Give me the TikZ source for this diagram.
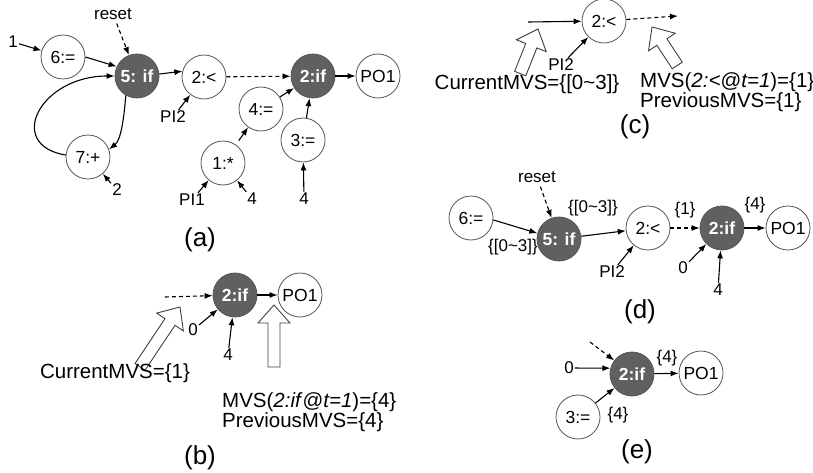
\documentclass[tikz,border=0pt]{standalone}
\usepackage{fontspec}
\setmainfont{Liberation Sans}
\usetikzlibrary{arrows.meta}
\definecolor{darkfill}{RGB}{96,96,96}
\definecolor{rim}{RGB}{85,85,85}
\newcommand\hollowarrow[3]{%
  \draw[hollow] [shift={#1}, rotate=#2] (0,0) -- (-18,16) -- (-18,6) -- (-#3,6) -- (-#3,-6) -- (-18,-6) -- (-18,-16) -- cycle;}
\begin{document}
\begin{tikzpicture}[x=1pt, y=-1pt,
  op/.style={circle, draw=rim, line width=0.8pt, minimum size=44pt, inner sep=0pt, fill=white, font=\fontsize{17.5}{20}\selectfont},
  opd/.style={op, fill=darkfill, text=white, font=\fontsize{17.5}{20}\selectfont\bfseries},
  lab/.style={inner sep=1pt, font=\fontsize{17}{19}\selectfont},
  biglab/.style={inner sep=0pt, font=\fontsize{20.5}{17.5}\selectfont, align=left},
  panel/.style={inner sep=0pt, font=\fontsize{26}{30}\selectfont},
  arr/.style={-{Latex[length=8pt,width=6pt]}, line width=1.1pt},
  darr/.style={arr, dash pattern=on 4pt off 3pt},
  hollow/.style={draw=black!75, line width=0.9pt, fill=white, line join=miter}]
\useasboundingbox (0,0) rectangle (813,473);

% ---------- (a) ----------
\node[op]  (a6)  at (63,57)   {6:=};
\node[opd] (a5)  at (137,76)  {5: if};
\node[op]  (a2l) at (204,77)  {2:<};
\node[opd] (a2i) at (313,76)  {2:if};
\node[op]  (apo) at (378,76)  {PO1};
\node[op]  (a4)  at (261,109) {4:=};
\node[op]  (a3)  at (303,140) {3:=};
\node[op]  (a1)  at (223,163) {1:*};
\node[op]  (a7)  at (88,157)  {7:+};
\node[lab] (areset) at (113,14) {reset};
\node[lab] (a1l)  at (13,42)  {1};
\node[lab] (api2) at (173,117) {PI2};
\node[lab] (a2lab) at (117,190) {2};
\node[lab] (api1) at (192,200) {PI1};
\node[lab] (a4l1) at (252,199) {4};
\node[lab] (a4l2) at (304,199) {4};
\node[panel] (pa) at (200,240) {(a)};
\draw[arr] (a1l) -- (a6);
\draw[arr] (a6.east) -- (a5.155);
\draw[darr, shorten <=3pt] (areset) -- (a5);
\draw[arr] (a5.5) -- (a2l.165);
\draw[darr] (a2l) -- (a2i);
\draw[arr] (a2i) -- (apo);
\draw[arr] (api2) -- (a2l);
\draw[arr, shorten <=5pt] (a1) -- (a4);
\draw[arr] (a4) -- (a2i);
\draw[arr] (a3) -- (a2i);
\draw[arr] (api1) -- (a1);
\draw[arr] (a4l1) -- (a1);
\draw[arr] (a4l2) -- (a3);
\draw[arr] (a2lab) -- (a7);
\draw[arr] (a5.-120) .. controls (124,118) and (121,140) .. (a7.20);
\draw[arr] (a7.175) .. controls (5,145) and (40,76) .. (a5.180);

% ---------- (b) ----------
\node[opd] (b2i) at (235,295) {2:if};
\node[op]  (bpo) at (300,295) {PO1};
\coordinate (bin) at (165,297);
\draw[darr] (bin) -- (b2i);
\draw[arr] (b2i) -- (bpo);
\node[lab] (b0) at (193,330) {0};
\node[lab] (b4) at (228,355) {4};
\draw[arr] (b0) -- (b2i);
\draw[arr] (b4) -- (b2i);
\hollowarrow{(180,307)}{56.3}{72}
\hollowarrow{(274,305)}{90}{62}
\node[biglab] (bcur) at (115,373) {CurrentMVS=\{1\}};
\node[biglab, anchor=west] (bmvs) at (222,412) {MVS(\textit{2:if}@\textit{t=1})=\{4\}\\PreviousMVS=\{4\}};
\node[panel] (pb) at (200,458) {(b)};

% ---------- (c) ----------
\node[op] (c2l) at (604,21) {2:<};
\coordinate (cin) at (528,22);
\coordinate (cout) at (678,16);
\draw[arr] (cin) -- (c2l);
\draw[darr] (c2l) -- (cout);
\node[lab] (cpi2) at (561,65) {PI2};
\draw[arr] (cpi2) -- (c2l);
\hollowarrow{(538,29)}{68.2}{48}
\hollowarrow{(652,27)}{123.3}{46}
\node[biglab] (ccur) at (527,84) {CurrentMVS=\{[0\textasciitilde3]\}};
\node[biglab, anchor=west] (cmvs) at (640,92) {MVS(\textit{2:<}@\textit{t=1})=\{1\}\\PreviousMVS=\{1\}};
\node[panel] (pc) at (635,127) {(c)};

% ---------- (d) ----------
\node[op]  (d6)  at (471,218) {6:=};
\node[opd] (d5)  at (559,239) {5: if};
\node[op]  (d2l) at (648,228) {2:<};
\node[opd] (d2i) at (722,228) {2:if};
\node[op]  (dpo) at (788,228) {PO1};
\node[lab] (dreset) at (537,177) {reset};
\node[lab] (ds1) at (593,208) {\{[0\textasciitilde3]\}};
\node[lab] (ds2) at (513,247) {\{[0\textasciitilde3]\}};
\node[lab] (ds3) at (685,210) {\{1\}};
\node[lab] (ds4) at (755,205) {\{4\}};
\node[lab] (dpi2) at (612,272) {PI2};
\node[lab] (d0) at (683,268) {0};
\node[lab] (d4) at (718,290) {4};
\node[panel] (pd) at (640,312) {(d)};
\draw[arr] (d6.-5) -- (d5.165);
\draw[darr, shorten <=3pt] (dreset) -- (d5);
\draw[arr] (d5) -- (d2l);
\draw[darr] (d2l) -- (d2i);
\draw[arr] (d2i) -- (dpo);
\draw[arr] (dpi2) -- (d2l);
\draw[arr] (d0) -- (d2i);
\draw[arr] (d4) -- (d2i);

% ---------- (e) ----------
\node[opd] (e2i) at (632,374) {2:if};
\node[op]  (epo) at (701,373) {PO1};
\node[op]  (e3)  at (578,417) {3:=};
\node[lab] (e0) at (569,368) {0};
\coordinate (ed) at (590,342);
\node[lab] (es1) at (667,358) {\{4\}};
\node[lab] (es2) at (618,415) {\{4\}};
\node[panel] (pe) at (637,452) {(e)};
\draw[arr] (e0) -- (e2i.165);
\draw[darr] (ed) -- (e2i);
\draw[arr] (e2i) -- (epo);
\draw[arr] (e3) -- (e2i);
\end{tikzpicture}
\end{document}
